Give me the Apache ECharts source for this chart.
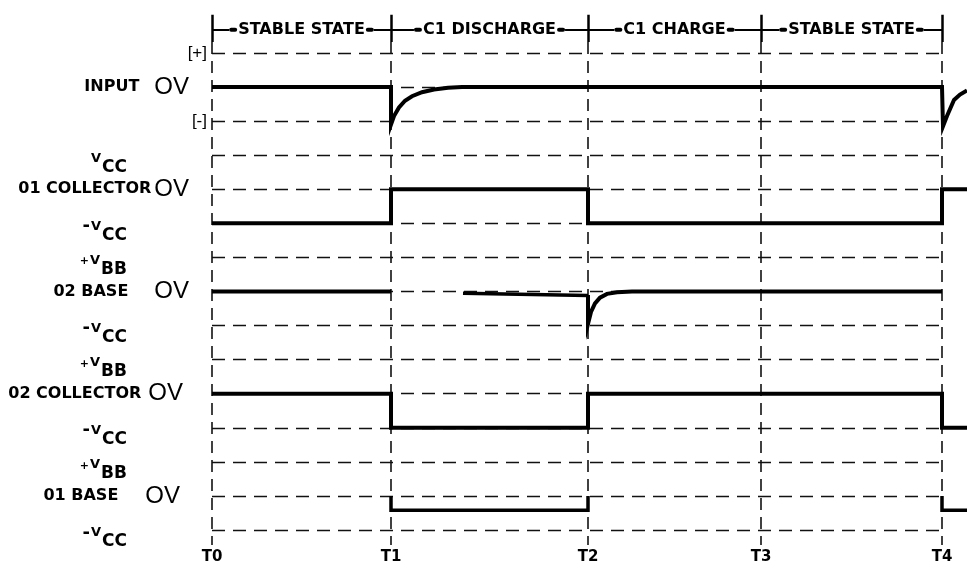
<!DOCTYPE html>
<html><head><meta charset="utf-8">
<script src="https://cdn.jsdelivr.net/npm/echarts@6/dist/echarts.min.js"></script>
<style>html,body{margin:0;padding:0;background:#fff}#c{width:967px;height:569px}</style>
</head><body><div id="c"></div>
<script>
// ---- data ----
const timeNames = ['T0', 'T1', 'T2', 'T3', 'T4'];
const times = [0, 179, 376, 549, 730];
const rowLabels = ['[+]', 'INPUT', '[-]', 'VCC', '01 COLLECTOR', '-VCC', '+VBB', '02 BASE', '-VCC', '+VBB', '02 COLLECTOR', '-VCC', '+VBB', '01 BASE', '-VCC'];
const nameRows = [1, 4, 7, 10, 13];
const bracketRows = [0, 2];
const supplyRows = [3, 5, 6, 8, 9, 11, 12, 14];
const stateNames = ['STABLE STATE', 'C1 DISCHARGE', 'C1 CHARGE', 'STABLE STATE'];
const inputWave = [[0,1],[179,1],[179,2.1],[182,1.85],[187,1.6],[193,1.4],[200,1.27],[210,1.15],[222,1.07],[236,1.02],[250,1],[730,1],[731,2.15],[735,1.85],[742,1.38],[748,1.22],[755,1.1]];
const q1Collector = [[0,5],[179,5],[179,4],[376,4],[376,5],[730,5],[730,4],[755,4]];
const q2BaseA = [[0,7],[179,7]];
const q2BaseDroop = [[251,7.05],[376,7.12]];
const q2BaseB = [[376,7.1],[376,7.95],[379,7.6],[383,7.35],[388,7.18],[395,7.07],[405,7.02],[420,7],[730,7]];
const q2Collector = [[0,10],[179,10],[179,11],[376,11],[376,10],[730,10],[730,11],[755,11]];
const q1BaseA = [[179,13],[179,13.42],[376,13.42],[376,13]];
const q1BaseB = [[730,13],[730,13.42],[755,13.42]];

// ---- layout ----
const F = '"Liberation Sans", Arial, Helvetica, sans-serif';
const B = '"DejaVu Sans", Verdana, sans-serif';
const X_MAX = 755;
const PX_PER_LEVEL = 477 / 14;
const Y_MIN = -53 / PX_PER_LEVEL;
const Y_MAX = Y_MIN + 545 / PX_PER_LEVEL;
const BAR_LEVEL = -0.68, TICK_TOP = -1.12, TICK_BOT = -0.32, VLINE_BOT = 14.44;
const nameLayout = {1: [15, 0], 4: [3, 0], 7: [26, 0], 10: [7, 6], 13: [27, 9]};

const richNames = {
  n: {fontFamily: B, fontWeight: 'bold', fontSize: 16, color: '#000'},
  o: {fontFamily: F, fontSize: 24, color: '#000'}
};
Object.keys(nameLayout).forEach(k => {
  richNames['g' + k] = {width: nameLayout[k][0]};
  richNames['e' + k] = {width: nameLayout[k][1]};
});
const richSupply = {
  m: {fontFamily: B, fontWeight: 'bold', fontSize: 18, color: '#000', padding: [6, 1, 0, 0]},
  p: {fontFamily: B, fontWeight: 'bold', fontSize: 11, color: '#000', padding: [8, 1, 0, 0]},
  v: {fontFamily: B, fontWeight: 'bold', fontSize: 13, color: '#000', padding: [6, 1, 0, 0]},
  s: {fontFamily: B, fontWeight: 'bold', fontSize: 17, color: '#000', padding: [24, 0, 0, 0]}
};

function yAxisFor(rows, margin, fmt, rich, font) {
  return {
    type: 'value', inverse: true, min: Y_MIN, max: Y_MAX, position: 'left',
    axisLine: {show: false}, axisTick: {show: false}, splitLine: {show: false},
    axisLabel: {show: true, customValues: rows, margin: margin, formatter: fmt, rich: rich,
      fontFamily: font || F, fontSize: 17, color: '#000'}
  };
}

function wave(data, w) {
  return {type: 'line', data: data, symbol: 'none', showSymbol: false, smooth: false, clip: false,
    lineStyle: {color: '#000', width: w, join: 'miter', cap: 'butt'}, z: 5, silent: true, animation: false};
}

function segs(list) {
  return list.map(c => ({coords: c}));
}

const option = {
  animation: false,
  backgroundColor: '#fff',
  grid: {left: 212, right: 0, top: 0, bottom: 24, containLabel: false},
  xAxis: {
    type: 'value', min: 0, max: X_MAX,
    axisLine: {show: false}, axisTick: {show: false}, splitLine: {show: false},
    axisLabel: {customValues: times, margin: 5, fontFamily: B, fontWeight: 'bold', fontSize: 15, color: '#000',
      formatter: v => timeNames[times.indexOf(v)] || ''}
  },
  yAxis: [
    yAxisFor(nameRows, 23, v => {
      const k = Math.round(v);
      return '{n|' + rowLabels[k] + '}{g' + k + '|}{o|OV}{e' + k + '|}';
    }, richNames),
    yAxisFor(bracketRows, 5, v => rowLabels[Math.round(v)], {}),
    yAxisFor(supplyRows, 85, v => {
      const t = rowLabels[Math.round(v)];
      let sign = '', rest = t;
      if (t[0] === '-' || t[0] === '+') { sign = t[0]; rest = t.slice(1); }
      const signTok = sign === '-' ? '{m|-}' : (sign === '+' ? '{p|+}' : '');
      return signTok + '{v|' + rest[0] + '}{s|' + rest.slice(1) + '}';
    }, richSupply)
  ],
  series: [
    {type: 'lines', coordinateSystem: 'cartesian2d', polyline: false, silent: true, z: 2, animation: false,
      data: segs(rowLabels.map((_, l) => [[times[0], l], [times[times.length - 1], l]])),
      lineStyle: {color: '#111', width: 1.3, type: [13, 8], opacity: 1, curveness: 0}},
    {type: 'lines', coordinateSystem: 'cartesian2d', polyline: false, silent: true, z: 2, animation: false,
      data: segs(times.map(t => [[t, TICK_BOT], [t, VLINE_BOT]])),
      lineStyle: {color: '#111', width: 1.6, type: [12, 7], opacity: 1, curveness: 0}},
    {type: 'lines', coordinateSystem: 'cartesian2d', polyline: false, silent: true, z: 3, animation: false,
      data: segs(times.map(t => [[t, TICK_TOP], [t, TICK_BOT]])),
      lineStyle: {color: '#000', width: 2.5, type: 'solid', opacity: 1, curveness: 0}},
    {type: 'line', data: [], silent: true, animation: false,
      markLine: {
        silent: true, animation: false, symbol: ['none', 'none'],
        lineStyle: {color: '#000', width: 2, type: 'solid'},
        label: {show: true, position: 'middle', distance: 0, verticalAlign: 'middle',
          backgroundColor: '#fff', padding: [0, 0],
          formatter: p => '{b|}{t|' + p.name + '}{b|}',
          rich: {
            b: {width: 8, height: 4, backgroundColor: '#000', borderRadius: 2},
            t: {fontFamily: B, fontWeight: 'bold', fontSize: 16, color: '#000', padding: [0, 1]}
          }},
        data: stateNames.map((s, i) => [
          {name: s, coord: [times[i], BAR_LEVEL]},
          {coord: [times[i + 1], BAR_LEVEL]}
        ])
      }},
    wave(inputWave, 4),
    wave(q1Collector, 4),
    wave(q2BaseA, 4),
    wave(q2BaseDroop, 3.5),
    wave(q2BaseB, 4),
    wave(q2Collector, 4),
    wave(q1BaseA, 3.5),
    wave(q1BaseB, 3.5)
  ]
};

const chart = echarts.init(document.getElementById('c'), null, {renderer: 'canvas'});
chart.setOption(option);
</script>
</body></html>
